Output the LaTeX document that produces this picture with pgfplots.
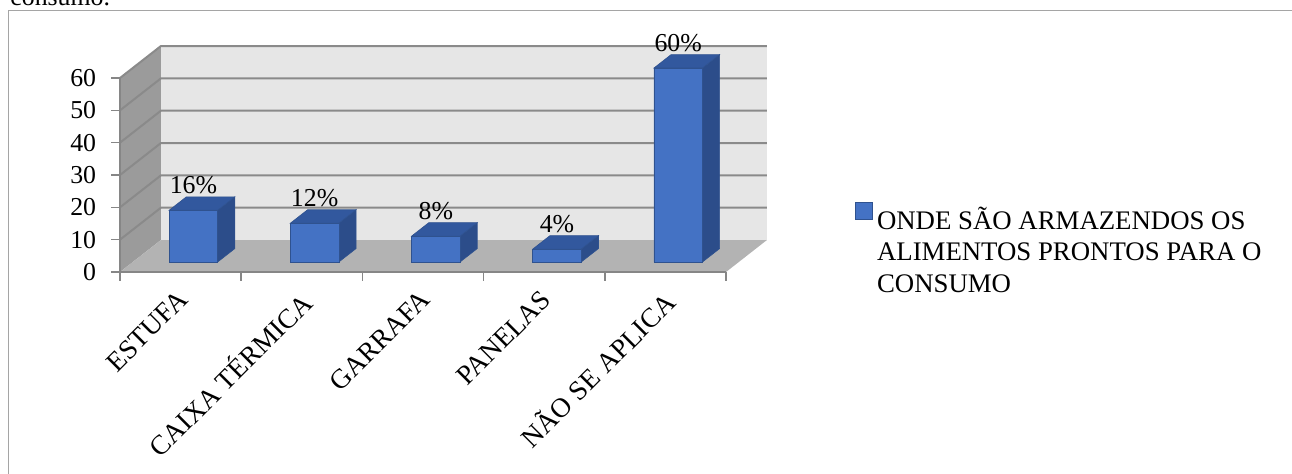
\documentclass[border=0pt]{standalone}
\usepackage{fontspec}
\setmainfont{Liberation Serif}
\usepackage{pgfplots}
\usepackage{pgfplotstable}
\pgfplotsset{compat=1.18}

\definecolor{barfront}{RGB}{68,114,196}
\definecolor{barside}{RGB}{44,77,138}
\definecolor{bartop}{RGB}{50,88,158}
\definecolor{baredge}{RGB}{47,82,143}
\definecolor{backwall}{RGB}{230,230,230}
\definecolor{sidewall}{RGB}{155,155,155}
\definecolor{floorgray}{RGB}{179,179,179}
\definecolor{gridgray}{RGB}{138,138,138}
\definecolor{axisgray}{RGB}{134,134,134}
\definecolor{framegray}{RGB}{165,165,165}

% share of each storage option (%)
\pgfplotstableread{
idx v
0 16
1 12
2 8
3 4
4 60
}\storagedata

% depth of the floor/walls in axis units, and depth slice occupied by the bars
\def\DX{0.338}
\def\DY{9.9}
\def\FA{0.3125}
\def\FB{0.7325}
\def\HW{0.2}

\begin{document}
\fontsize{12.9}{15.65}\selectfont
\begin{tikzpicture}
\useasboundingbox (0,0) rectangle (646pt,-236.5pt);
\clip (0,0) rectangle (646pt,-236.5pt);
\node[anchor=base west, inner sep=0pt] at (5pt,-2.5pt) {consumo.};
\draw[framegray, line width=0.75pt] (4.25pt,-260pt) -- (4.25pt,-5.25pt) -- (680pt,-5.25pt);

\begin{axis}[
  at={(60pt,-136pt)}, anchor=south west,
  x=60.6pt, y=1.61667pt,
  xmin=-0.5, xmax=4.5, ymin=0, ymax=60,
  clip=false, axis on top,
  axis lines*=left,
  axis line style={axisgray, line width=0.75pt, -},
  tick style={axisgray, line width=0.75pt},
  tick align=outside,
  major tick length=4.25pt,
  ytick={0,10,...,60},
  xtick={-0.5,0.5,...,4.5},
  x tick label as interval,
  xticklabels={ESTUFA, CAIXA TÉRMICA, GARRAFA, PANELAS, NÃO SE APLICA},
  /pgf/number format/assume math mode=true,
  yticklabel style={anchor=east, inner sep=0pt, xshift=-7.5pt},
  xticklabel style={xshift=-2.2pt, yshift=-3.8pt, rotate=45, anchor=north east, inner sep=0pt,
    font=\fontsize{13.7}{15.65}\selectfont},
  legend cell align=left,
  legend style={draw=none, fill=none, at={(1.2129,0.362)}, anchor=north west,
    inner sep=0pt, column sep=0pt,
    cells={anchor=base west, inner sep=0pt},
    font=\fontsize{13.4}{15.65}\selectfont},
  legend image code/.code={\fill[barfront, draw=baredge, line width=0.3pt] (0pt,0pt) rectangle (8.5pt,8.5pt);},
]
% back wall, left wall and floor
\addplot[fill=backwall, draw=none, forget plot] coordinates {(-0.162,9.9) (4.838,9.9) (4.838,69.9) (-0.162,69.9)} -- cycle;
\addplot[fill=sidewall, draw=none, forget plot] coordinates {(-0.5,0) (-0.162,9.9) (-0.162,69.9) (-0.5,60)} -- cycle;
\addplot[fill=floorgray, draw=none, forget plot] coordinates {(-0.5,0) (4.5,0) (4.838,9.9) (-0.162,9.9)} -- cycle;
% gridlines on the back and left walls
\pgfplotsinvokeforeach{10,20,...,60}{
  \pgfmathsetmacro\gy{#1+\DY}
  \addplot[gridgray, line width=1pt, forget plot] coordinates {(-0.5,#1) (-0.162,\gy) (4.838,\gy)};
}
% side and top faces of each box
\pgfplotsinvokeforeach{0,...,4}{
  \pgfplotstablegetelem{#1}{v}\of\storagedata
  \let\barval\pgfplotsretval
  \pgfmathsetmacro\xl{#1-\HW+\FA*\DX}
  \pgfmathsetmacro\xr{#1+\HW+\FA*\DX}
  \pgfmathsetmacro\xlb{#1-\HW+\FB*\DX}
  \pgfmathsetmacro\xrb{#1+\HW+\FB*\DX}
  \pgfmathsetmacro\yb{\FA*\DY}
  \pgfmathsetmacro\ybb{\FB*\DY}
  \pgfmathsetmacro\yt{\barval+\FA*\DY}
  \pgfmathsetmacro\ytb{\barval+\FB*\DY}
  \addplot[fill=barside, draw=baredge, line width=0.3pt, forget plot]
    coordinates {(\xr,\yb) (\xrb,\ybb) (\xrb,\ytb) (\xr,\yt)} -- cycle;
  \addplot[fill=bartop, draw=baredge, line width=0.3pt, forget plot]
    coordinates {(\xl,\yt) (\xr,\yt) (\xrb,\ytb) (\xlb,\ytb)} -- cycle;
}
% front faces
\addplot[ybar, bar width=24.24pt, bar shift=6.4pt, yshift=5pt,
  fill=barfront, draw=baredge, line width=0.3pt]
  table[x=idx, y=v] {\storagedata};
\addlegendentry{\parbox[t]{200pt}{\raggedright\strut ONDE SÃO ARMAZENDOS OS\\ALIMENTOS PRONTOS PARA O\\CONSUMO}}
% value labels
\addplot[draw=none, forget plot, point meta=\thisrow{v},
  nodes near coords={\pgfmathprintnumber{\pgfplotspointmeta}\%},
  every node near coord/.append style={anchor=base, inner sep=0pt, yshift=8.15pt, text=black}]
  table[x expr=\thisrow{idx}+\FA*\DX, y expr=\thisrow{v}+\FA*\DY] {\storagedata};
\end{axis}
\end{tikzpicture}
\end{document}
